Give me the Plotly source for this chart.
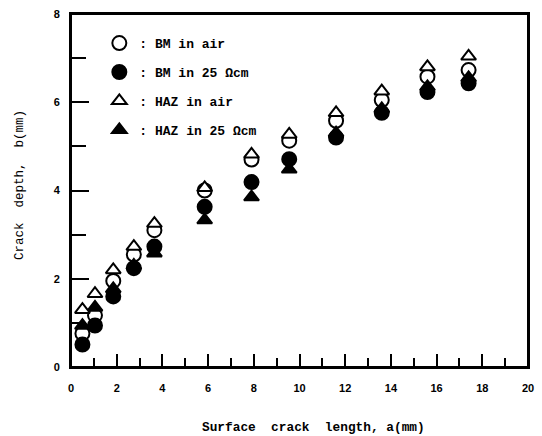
import plotly.graph_objects as go

# Surface crack length a (mm)
a_len = [0.5, 1.05, 1.85, 2.75, 3.65, 5.85, 7.9, 9.55, 11.6, 13.6, 15.6, 17.4]

# Crack depth b (mm)
bm_air = [0.76, 1.17, 1.95, 2.55, 3.1, 4.0, 4.7, 5.13, 5.58, 6.05, 6.58, 6.73]
bm_25 = [0.51, 0.94, 1.6, 2.24, 2.73, 3.63, 4.19, 4.71, 5.2, 5.76, 6.23, 6.43]
haz_air = [1.3, 1.66, 2.2, 2.73, 3.25, 4.06, 4.82, 5.27, 5.76, 6.25, 6.8, 7.04]
haz_25 = [0.94, 1.35, 1.77, 2.3, 2.58, 3.33, 3.85, 4.48, 5.3, 5.85, 6.35, 6.55]

names = [": BM in air", ": BM in 25 Ωcm", ": HAZ in air", ": HAZ in 25 Ωcm"]

LEG_FONT = dict(family="Liberation Mono", size=13, color="black", weight="bold")

fig = go.Figure()

def add(y, name, symbol, fill, size, rank):
    fig.add_trace(go.Scatter(
        x=a_len, y=y, mode="markers", name=name,
        legendgroup=name, legendrank=rank,
        marker=dict(symbol=symbol, size=size, color=fill,
                    line=dict(color="black", width=2)),
    ))

# drawing order
add(bm_air, names[0], "circle", "white", 14, 1)
add(bm_25, names[1], "circle", "black", 14, 2)
add(haz_25, names[3], "triangle-up", "black", 13, 4)
add(haz_air, names[2], "triangle-up", "white", 13, 3)

axis_common = dict(
    showline=True, linecolor="black", linewidth=2, mirror=True,
    showgrid=False, zeroline=False,
    ticks="inside", tickcolor="black", tickwidth=2,
    ticklabeloverflow="allow",
    tickfont=dict(family="Liberation Sans", size=11, color="black", weight="bold"),
)

fig.update_xaxes(range=[0, 20], dtick=2, tick0=0, ticklen=13,
                 ticklabelstandoff=10,
                 minor=dict(ticks="inside", dtick=1, tick0=0, ticklen=9,
                            tickcolor="black", tickwidth=2),
                 **axis_common)
fig.update_yaxes(range=[0, 8], dtick=2, tick0=0, ticklen=18,
                 ticklabelstandoff=7,
                 minor=dict(ticks="inside", dtick=1, tick0=0, ticklen=15,
                            tickcolor="black", tickwidth=2),
                 **axis_common)

fig.update_layout(
    width=542, height=436,
    margin=dict(l=71, r=8, t=10, b=69),
    plot_bgcolor="white", paper_bgcolor="white",
    showlegend=True,
    legend=dict(x=0.062, y=0.96, xanchor="left", yanchor="top",
                font=LEG_FONT, bgcolor="rgba(0,0,0,0)",
                tracegroupgap=9, itemsizing="trace"),
    shapes=[
        # plot frame
        dict(type="rect", xref="paper", yref="paper", x0=0, x1=1, y0=0, y1=1,
             line=dict(color="black", width=2), layer="above"),
    ],
    annotations=[
        dict(text="Crack  depth,  b(mm)", xref="paper", yref="paper",
             x=-0.112, y=0.515, showarrow=False, textangle=-90,
             xanchor="center", yanchor="middle",
             font=dict(family="Liberation Mono", size=12.5, color="black")),
        dict(text="Surface  crack  length, a(mm)", xref="paper", yref="paper",
             x=0.53, y=-0.171, showarrow=False,
             xanchor="center", yanchor="middle",
             font=dict(family="Liberation Mono", size=12.8, color="black", weight="bold")),
    ],
)

# remove the default 8px page margin so the 542x436 figure fills the window
fig.write_html("out.html", config={"displayModeBar": False},
               post_script="document.body.style.margin='0';")
